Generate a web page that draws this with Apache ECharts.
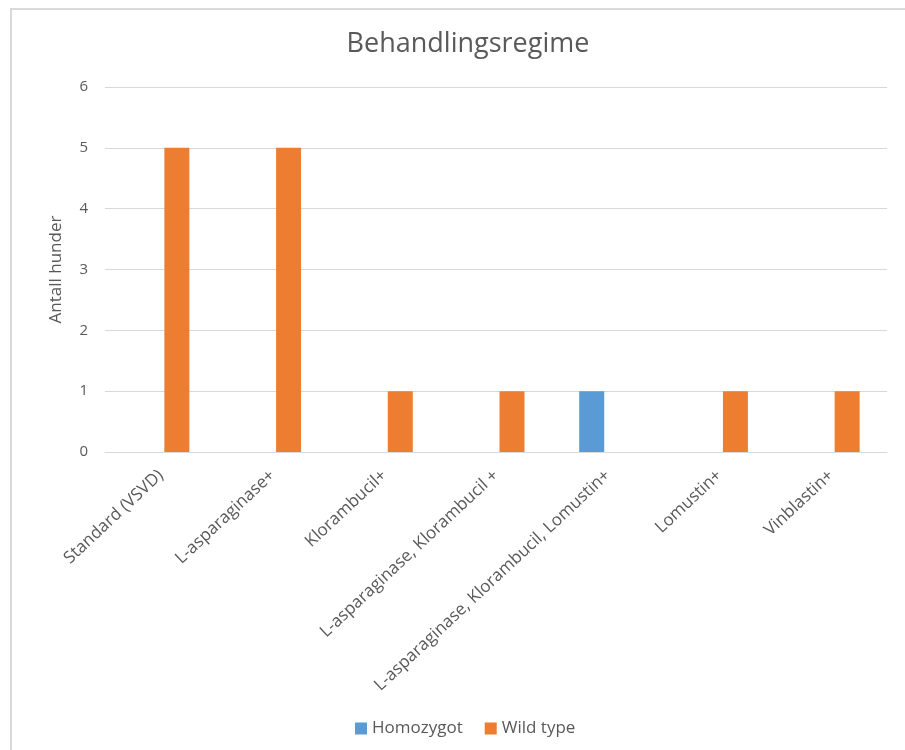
<!DOCTYPE html>
<html>
<head>
<meta charset="utf-8">
<script src="https://cdn.jsdelivr.net/npm/echarts@6/dist/echarts.min.js"></script>
<style>
  html, body { margin: 0; padding: 0; background: #fff; }
  #chart { width: 905px; height: 750px; }
</style>
</head>
<body>
<div id="chart"></div>
<script>
// behandlingsregime per genotype
const categories = [
  'Standard (VSVD)',
  'L-asparaginase+',
  'Klorambucil+',
  'L-asparaginase, Klorambucil +',
  'L-asparaginase, Klorambucil, Lomustin+',
  'Lomustin+',
  'Vinblastin+'
];
const homozygot = [0, 0, 0, 0, 1, 0, 0];
const wildType = [5, 5, 1, 1, 0, 1, 1];
const yTicks = [0, 1, 2, 3, 4, 5, 6];

const txt = '#595959';
const font = '"Open Sans", "Noto Sans", sans-serif';

const chart = echarts.init(document.getElementById('chart'));

const option = {
  animation: false,
  textStyle: { fontFamily: font },
  graphic: [{
    type: 'rect',
    shape: { x: 11, y: 9, width: 1000, height: 1000 },
    style: { fill: 'none', stroke: '#d9d9d9', lineWidth: 2 },
    silent: true
  }],
  title: {
    text: 'Behandlingsregime',
    left: 463,
    textAlign: 'center',
    top: 26,
    textStyle: { color: txt, fontSize: 27, fontWeight: 'normal', fontFamily: font }
  },
  legend: {
    data: ['Homozygot', 'Wild type'],
    left: 350,
    top: 715,
    icon: 'rect',
    itemWidth: 12,
    itemHeight: 12,
    itemGap: 22,
    textStyle: { color: txt, fontSize: 17, fontFamily: font }
  },
  grid: { left: 105, right: 18, top: 87, bottom: 298 },
  xAxis: {
    type: 'category',
    data: categories,
    axisLine: { lineStyle: { color: '#d9d9d9', width: 1 } },
    axisTick: { show: false },
    axisLabel: {
      rotate: 43, color: txt, fontSize: 17, margin: 21, interval: 0,
      padding: [12, 0, 0, 0], fontFamily: font
    }
  },
  yAxis: {
    type: 'value',
    min: yTicks[0],
    max: yTicks[yTicks.length - 1],
    interval: 1,
    name: 'Antall hunder',
    nameLocation: 'middle',
    nameGap: 40,
    nameTextStyle: { color: txt, fontSize: 17, fontFamily: font },
    axisLine: { show: false },
    axisTick: { show: false },
    axisLabel: { color: txt, fontSize: 15, margin: 17, fontFamily: font },
    splitLine: { lineStyle: { color: '#d9d9d9', width: 1 } }
  },
  series: [
    {
      name: 'Homozygot',
      type: 'bar',
      data: homozygot,
      barWidth: 25,
      barGap: '28%',
      itemStyle: { color: '#5B9BD5' }
    },
    {
      name: 'Wild type',
      type: 'bar',
      data: wildType,
      barWidth: 25,
      barGap: '28%',
      itemStyle: { color: '#ED7D31' }
    }
  ]
};

chart.setOption(option);
</script>
</body>
</html>
